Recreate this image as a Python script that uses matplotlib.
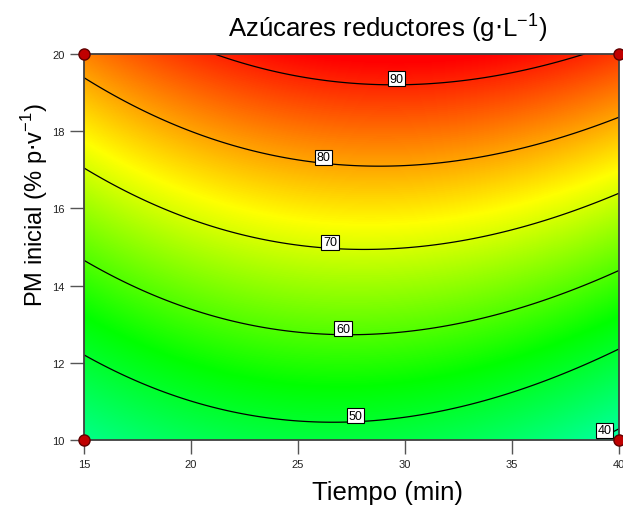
import numpy as np
import matplotlib
matplotlib.use('Agg')
from matplotlib import pyplot as plt
from matplotlib.colors import LinearSegmentedColormap

plt.rcParams['font.family'] = ['Liberation Sans', 'DejaVu Sans']

# contour points: level | tiempo (min) | PM inicial (%)
lvl = [90, 90, 90, 90,
       80, 80, 80, 80, 80, 80, 80,
       70, 70, 70, 70, 70, 70,
       60, 60, 60, 60, 60, 60,
       50, 50, 50, 50, 50, 50,
       40, 40]
tx = [22.76, 28.97, 32.1, 37.24,
      15.0, 17.6, 22.76, 28.7, 32.1, 37.24, 40.0,
      15.0, 22.76, 28.5, 32.1, 37.24, 40.0,
      15.0, 22.76, 27.9, 32.1, 37.24, 40.0,
      15.0, 22.76, 26.6, 32.1, 37.24, 40.0,
      38.96, 40.0]
py = [19.70, 19.20, 19.25, 19.84,
      19.40, 18.58, 17.50, 17.09, 17.21, 17.84, 18.36,
      17.05, 15.28, 14.95, 15.10, 15.83, 16.37,
      14.65, 12.98, 12.73, 12.99, 13.78, 14.37,
      12.20, 10.65, 10.45, 10.79, 11.71, 12.36,
      10.00, 10.28]

levels = [40, 50, 60, 70, 80, 90]
# where the labels sit on each line
label_pos = [(39.3, 10.12), (27.7, 10.47), (27.1, 12.75), (26.5, 14.97), (26.2, 17.12), (29.6, 19.2)]

# design points (corners)
dx = [15, 15, 40, 40]
dy = [10, 20, 10, 20]

# quadratic response surface fitted to the read contour points
tx = np.array(tx); py = np.array(py); lvl = np.array(lvl, dtype=float)
A = np.column_stack([np.ones_like(tx), tx, py, tx**2, py**2, tx*py])
coef = np.linalg.lstsq(A, lvl, rcond=None)[0]

X, Y = np.meshgrid(np.linspace(15, 40, 400), np.linspace(10, 20, 400))
Z = coef[0] + coef[1]*X + coef[2]*Y + coef[3]*X**2 + coef[4]*Y**2 + coef[5]*X*Y

vmin, vmax = 30, 93
cmap = LinearSegmentedColormap.from_list('de', [
    (0.0, (0, 1, 1)),
    ((54 - vmin)/(vmax - vmin), (0, 1, 0)),
    ((73 - vmin)/(vmax - vmin), (1, 1, 0)),
    (1.0, (1, 0, 0))])

fig = plt.figure(figsize=(6.23, 5.06), dpi=100)
ax = fig.add_axes([84/623, 1 - 441/506, 535/623, 386/506])

ax.imshow(Z, extent=(15, 40, 10, 20), origin='lower', aspect='auto',
          cmap=cmap, vmin=vmin, vmax=vmax, interpolation='bilinear')
cs = ax.contour(X, Y, Z, levels=levels, colors='black', linewidths=0.9)
labels = ax.clabel(cs, inline=False, manual=label_pos, fmt='%d', fontsize=9)
for t in labels:
    t.set_rotation(0)
    t.set_va('bottom')
    t.set_bbox(dict(facecolor='white', edgecolor='black', pad=1.2, lw=0.8))

ax.plot(dx, dy, 'o', color='#c00000', mec='#600000', ms=8, clip_on=False, zorder=5)

ax.set_xlim(15, 40)
ax.set_ylim(10, 20)
ax.set_xticks([15, 20, 25, 30, 35, 40])
ax.set_yticks([10, 12, 14, 16, 18, 20])
ax.tick_params(direction='out', length=10, width=1, color='#555555',
               labelsize=8, labelcolor='#222222', pad=4)
for s in ax.spines.values():
    s.set_color('#404040')
    s.set_linewidth(1.3)

ax.set_xlabel('Tiempo (min)', fontsize=18.5)
ax.xaxis.set_label_coords((388 - 84)/535, -0.103)
ax.set_ylabel(r'PM inicial (% p$\cdot$v$^{\mathregular{-1}}$)', fontsize=17)
ax.yaxis.set_label_coords(-0.064, (441 - 205)/386)

fig.text(388/623, 1 - 28/506, r'Azúcares reductores (g$\cdot$L$^{\mathregular{-1}}$)',
         fontsize=18.5, ha='center', va='center')

fig.savefig('out.png', dpi=100)
